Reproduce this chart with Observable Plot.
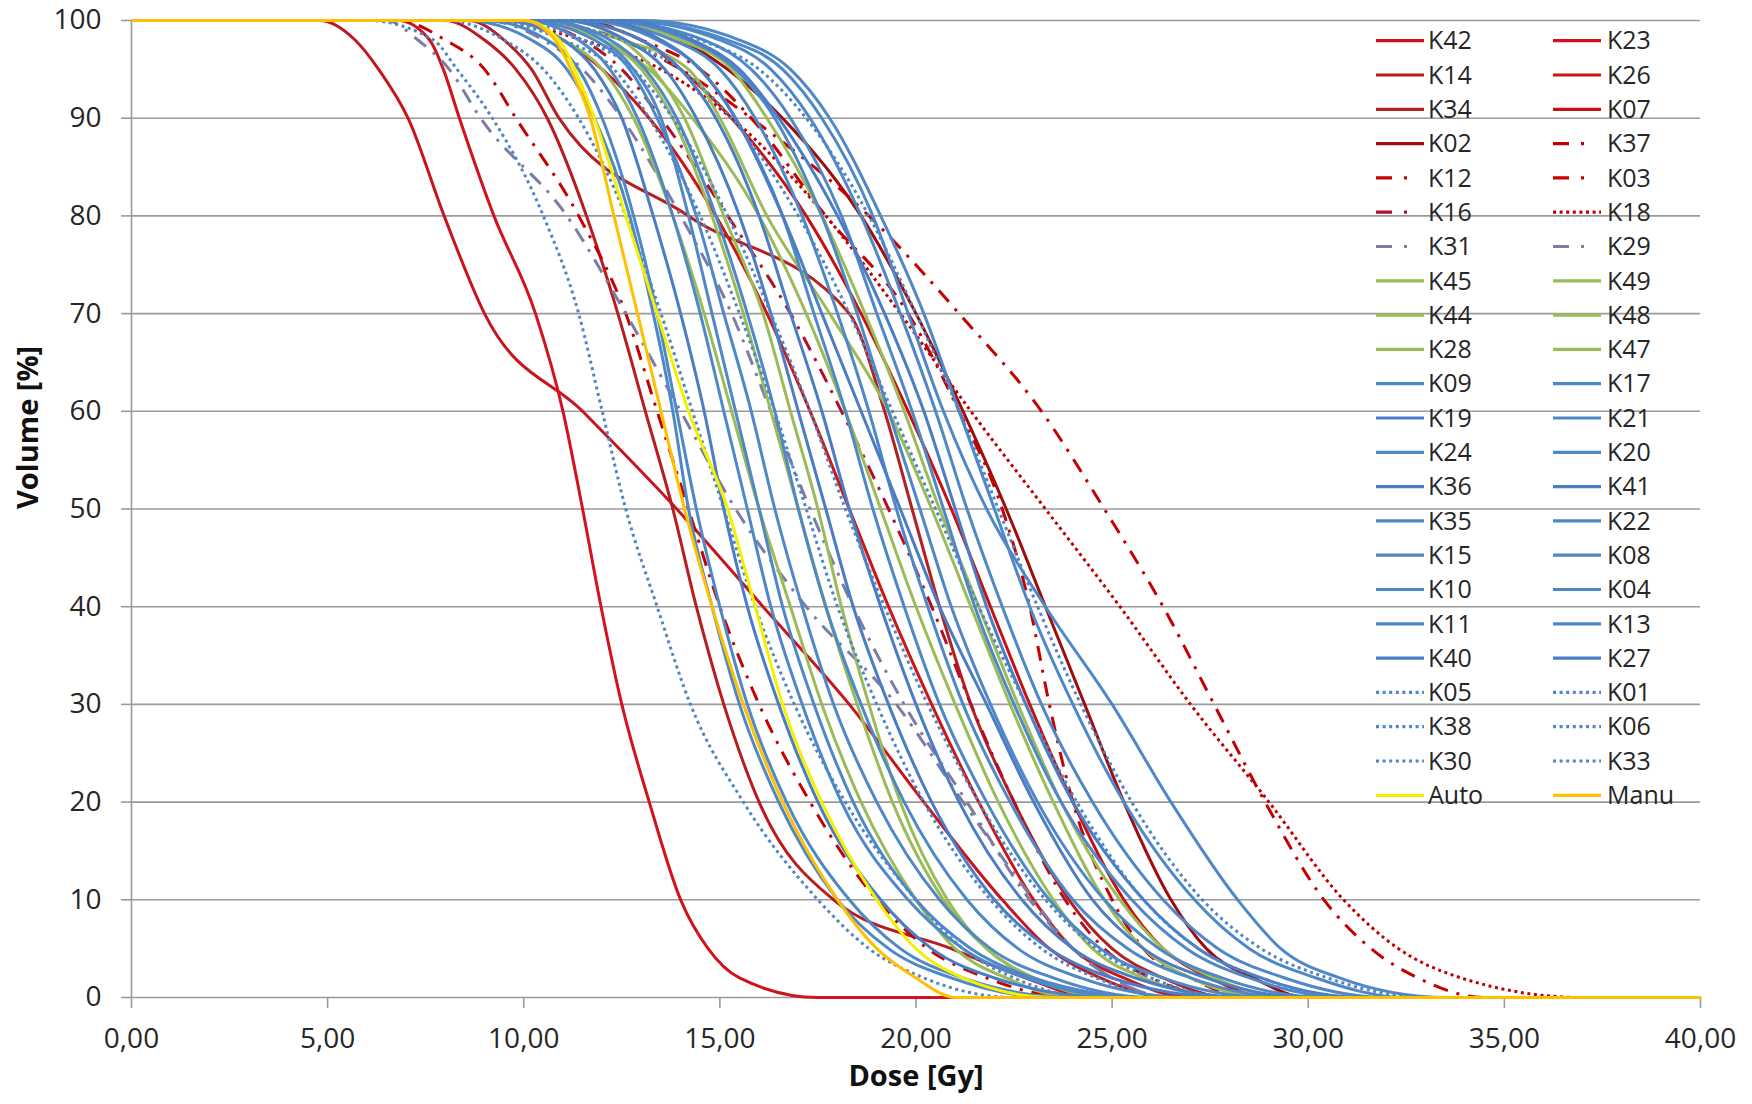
<!DOCTYPE html>
<html><head><meta charset="utf-8">
<script src="https://cdn.jsdelivr.net/npm/d3@7"></script>
<script src="https://cdn.jsdelivr.net/npm/@observablehq/plot@0.6"></script>
<style>
html,body{margin:0;padding:0;background:#fff;}
#chart svg{display:block;}
</style></head><body><div id="chart"></div>
<script>
// Volume levels (%) at which the dose (Gy) of every curve was read
const levels = [100, 98, 95, 90, 80, 70, 60, 50, 40, 30, 20, 10, 5, 2, 0];

// Dose [Gy] reached by each DVH at the levels above
const K42 = [4.8, 5.7, 6.3, 7.05, 7.97, 9.0, 11.5, 13.9, 16.1, 18.3, 20.2, 22.2, 23.4, 24.7, 26.5];
const K23 = [6.8, 7.6, 7.95, 8.36, 9.24, 10.3, 11.0, 11.5, 11.97, 12.5, 13.2, 14.0, 14.7, 15.5, 17.5];
const K14 = [8.0, 9.0, 9.8, 10.6, 11.6, 12.4, 13.1, 13.8, 14.4, 15.1, 16.0, 17.9, 20.9, 22.8, 24.5];
const K26 = [9.5, 11.0, 12.0, 13.2, 14.9, 16.2, 17.3, 18.3, 19.3, 20.4, 21.6, 23.0, 24.0, 25.3, 27.0];
const K34 = [8.6, 9.5, 10.2, 10.9, 14.2, 18.3, 19.2, 19.9, 20.6, 21.4, 22.5, 23.9, 25.0, 26.3, 28.0];
const K07 = [11.0, 13.0, 14.0, 15.3, 17.2, 18.6, 19.8, 20.9, 21.9, 22.9, 24.0, 25.3, 26.3, 27.5, 29.0];
const K02 = [12.0, 14.0, 15.2, 16.6, 18.6, 20.0, 21.2, 22.3, 23.3, 24.3, 25.3, 26.5, 27.4, 28.6, 30.0];
const K37 = [10.0, 12.5, 14.0, 15.8, 18.8, 21.1, 23.2, 24.8, 26.3, 27.6, 28.9, 30.4, 31.6, 32.8, 34.5];
const K12 = [6.8, 8.0, 9.0, 9.8, 11.4, 12.6, 13.4, 14.2, 15.0, 16.0, 17.3, 19.0, 20.3, 21.8, 24.0];
const K03 = [11.5, 13.0, 14.5, 15.8, 17.7, 19.8, 21.1, 22.2, 22.9, 23.4, 24.0, 25.0, 25.8, 27.0, 28.5];
const K16 = [10.0, 11.5, 12.5, 13.5, 15.2, 16.8, 18.1, 19.3, 20.4, 21.4, 22.5, 23.8, 24.8, 26.0, 28.0];
const K18 = [9.0, 11.5, 13.5, 15.3, 17.7, 19.6, 21.4, 23.3, 25.2, 27.0, 29.0, 30.9, 32.3, 33.9, 37.0];
const K31 = [6.5, 7.3, 8.1, 8.9, 11.1, 12.6, 14.0, 15.4, 17.2, 19.5, 21.2, 23.0, 24.0, 25.0, 26.5];
const K29 = [9.0, 10.5, 11.5, 12.5, 14.0, 15.3, 16.3, 17.3, 18.4, 19.7, 21.3, 22.9, 24.0, 25.0, 26.5];
const K45 = [10.0, 12.5, 14.2, 15.0, 16.2, 17.8, 19.3, 20.4, 21.4, 22.4, 23.5, 24.8, 25.8, 27.0, 29.0];
const K49 = [10.5, 12.0, 13.0, 13.8, 14.8, 15.6, 16.3, 17.0, 17.7, 18.5, 19.4, 20.7, 21.8, 23.0, 25.0];
const K44 = [11.0, 12.5, 13.3, 14.1, 15.1, 16.1, 16.8, 17.5, 18.1, 18.8, 19.6, 20.8, 21.8, 23.0, 25.0];
const K48 = [9.5, 11.0, 12.0, 12.8, 13.8, 14.6, 15.3, 16.0, 16.8, 17.6, 18.6, 20.0, 21.0, 22.3, 24.0];
const K28 = [12.0, 14.0, 15.3, 16.2, 17.6, 18.7, 19.7, 20.6, 21.6, 22.6, 23.7, 25.2, 26.3, 27.6, 29.5];
const K47 = [10.0, 12.0, 13.2, 14.3, 16.0, 17.2, 18.2, 19.1, 20.0, 21.0, 22.1, 23.5, 24.5, 25.8, 28.0];
const K09 = [12.5, 15.2, 16.6, 17.6, 18.9, 19.8, 20.7, 21.8, 23.3, 25.0, 26.5, 28.2, 29.3, 30.8, 33.5];
const K17 = [9.0, 10.6, 11.4, 12.0, 12.8, 13.4, 13.9, 14.4, 15.0, 15.7, 16.7, 18.3, 19.6, 21.2, 24.0];
const K19 = [9.5, 11.0, 11.8, 12.5, 13.3, 14.0, 14.6, 15.1, 15.7, 16.5, 17.5, 19.1, 20.4, 22.0, 25.0];
const K21 = [10.0, 11.4, 12.2, 12.9, 13.8, 14.5, 15.1, 15.7, 16.3, 17.1, 18.1, 19.8, 21.2, 22.8, 25.5];
const K24 = [10.0, 11.8, 12.7, 13.4, 14.4, 15.1, 15.8, 16.4, 17.1, 17.9, 19.0, 20.6, 21.9, 23.5, 26.0];
const K20 = [10.5, 12.2, 13.1, 13.9, 14.9, 15.7, 16.4, 17.0, 17.7, 18.6, 19.7, 21.3, 22.6, 24.2, 27.0];
const K36 = [11.0, 12.6, 13.6, 14.4, 15.5, 16.3, 17.0, 17.7, 18.4, 19.3, 20.4, 22.0, 23.4, 25.0, 28.0];
const K41 = [11.0, 13.0, 14.0, 14.9, 16.0, 16.8, 17.6, 18.3, 19.1, 20.0, 21.1, 22.7, 24.0, 25.6, 28.5];
const K35 = [11.5, 13.4, 14.5, 15.4, 16.6, 17.4, 18.2, 18.9, 19.7, 20.6, 21.8, 23.4, 24.7, 26.3, 29.0];
const K22 = [11.5, 13.8, 15.0, 15.9, 17.1, 18.0, 18.8, 19.5, 20.3, 21.2, 22.4, 24.0, 25.4, 27.0, 29.5];
const K15 = [12.0, 14.2, 15.4, 16.4, 17.6, 18.5, 19.3, 20.1, 20.9, 21.9, 23.1, 24.8, 26.2, 27.8, 30.5];
const K08 = [12.0, 14.6, 15.8, 16.8, 18.1, 19.0, 19.9, 20.7, 21.5, 22.5, 23.7, 25.5, 26.9, 28.5, 31.0];
const K10 = [12.5, 15.0, 16.3, 17.3, 18.6, 19.6, 20.5, 21.3, 22.2, 23.2, 24.5, 26.3, 27.7, 29.4, 32.0];
const K04 = [13.0, 15.5, 16.8, 17.8, 19.1, 20.2, 21.1, 22.0, 22.9, 24.0, 25.3, 27.1, 28.5, 30.2, 32.5];
const K11 = [8.5, 10.2, 11.1, 11.8, 12.7, 13.3, 13.8, 14.2, 14.8, 15.5, 16.5, 18.0, 19.3, 20.9, 23.5];
const K13 = [10.5, 12.0, 12.8, 13.5, 14.2, 14.8, 15.4, 16.0, 16.6, 17.4, 18.4, 20.0, 21.4, 23.0, 26.0];
const K40 = [12.0, 13.5, 14.5, 15.4, 16.6, 17.6, 18.6, 19.6, 20.6, 21.8, 23.0, 24.5, 25.8, 27.4, 30.0];
const K27 = [12.5, 14.3, 15.5, 16.5, 18.0, 19.2, 20.2, 21.0, 21.8, 22.8, 24.0, 25.8, 27.2, 28.8, 31.5];
const K05 = [6.0, 7.7, 8.3, 9.2, 10.5, 11.4, 12.0, 12.6, 13.4, 14.25, 15.6, 17.5, 18.8, 20.2, 22.5];
const K01 = [8.0, 9.5, 10.5, 11.4, 12.6, 13.5, 14.3, 15.1, 15.9, 16.9, 18.2, 20.0, 21.2, 22.5, 24.5];
const K38 = [9.5, 11.5, 12.8, 13.8, 15.2, 16.3, 17.3, 18.2, 19.2, 20.3, 21.6, 23.3, 24.6, 26.0, 28.0];
const K06 = [10.0, 12.5, 14.0, 15.3, 17.0, 18.3, 19.4, 20.5, 21.6, 22.8, 24.1, 25.8, 27.2, 28.8, 31.0];
const K30 = [12.0, 14.5, 16.0, 17.2, 18.8, 20.0, 21.1, 22.1, 23.1, 24.2, 25.5, 27.3, 28.8, 30.5, 33.0];
const K33 = [9.0, 11.0, 12.3, 13.2, 14.5, 15.5, 16.4, 17.2, 18.0, 19.0, 20.2, 21.9, 23.2, 24.6, 26.5];
const Auto = [10.0, 10.9, 11.3, 11.8, 12.6, 13.4, 14.2, 15.2, 15.9, 16.6, 17.6, 19.0, 20.0, 21.2, 23.5];
const Manu = [10.0, 10.8, 11.2, 11.7, 12.3, 12.9, 13.5, 14.1, 14.8, 15.6, 16.6, 18.0, 19.0, 20.0, 21.0];

// Series in legend (and drawing) order
const seriesNames = ["K42","K23","K14","K26","K34","K07","K02","K37","K12","K03","K16","K18",
  "K31","K29","K45","K49","K44","K48","K28","K47","K09","K17","K19","K21","K24","K20","K36","K41",
  "K35","K22","K15","K08","K10","K04","K11","K13","K40","K27","K05","K01","K38","K06","K30","K33",
  "Auto","Manu"];
const seriesDoses = [K42,K23,K14,K26,K34,K07,K02,K37,K12,K03,K16,K18,
  K31,K29,K45,K49,K44,K48,K28,K47,K09,K17,K19,K21,K24,K20,K36,K41,
  K35,K22,K15,K08,K10,K04,K11,K13,K40,K27,K05,K01,K38,K06,K30,K33,
  Auto,Manu];

const doseTicks = [0, 5, 10, 15, 20, 25, 30, 35, 40];
const volumeTicks = [0, 10, 20, 30, 40, 50, 60, 70, 80, 90, 100];
const doseDomain = [0, 40];

// ---- styles ----
const DASHDOT = "15,9,3,9";
const DOT = "3,3.6";
function styleOf(name) {
  const reds = {K42:"#c8141c",K23:"#d2121c",K14:"#b81c1e",K26:"#cc1616",K34:"#b52020",K07:"#c81010",K02:"#9e0c0c"};
  if (reds[name]) return {stroke: reds[name], dash: null};
  if (["K37","K12","K03","K16"].includes(name)) return {stroke: name === "K16" ? "#b0102c" : "#c40000", dash: DASHDOT};
  if (name === "K18") return {stroke: "#c00000", dash: DOT};
  if (["K31","K29"].includes(name)) return {stroke: "#7c7ca6", dash: DASHDOT};
  if (["K45","K49","K44","K48","K28","K47"].includes(name)) return {stroke: "#9bbb59", dash: null};
  if (["K05","K01","K38","K06","K30","K33"].includes(name)) return {stroke: "#4f86c6", dash: DOT};
  if (name === "Auto") return {stroke: "#f5f000", dash: null};
  if (name === "Manu") return {stroke: "#ffc000", dash: null};
  if (["K40","K27","K19","K41","K36"].includes(name)) return {stroke: "#4a7dc4", dash: null};
  return {stroke: "#4f88c6", dash: null};
}

function rowsOf(i) {
  const d = seriesDoses[i];
  const rows = [{dose: doseDomain[0], vol: levels[0]}];
  levels.forEach((v, j) => rows.push({dose: d[j], vol: v}));
  rows.push({dose: doseDomain[1], vol: levels[levels.length - 1]});
  return rows;
}

const FONT = "'Open Sans', 'DejaVu Sans', sans-serif";
const GRID = "#9a9a9a";
const fmtDose = d => d.toFixed(2).replace(".", ",");

const lineMarks = seriesNames.map((name, i) => {
  const s = styleOf(name);
  const opts = {x: "dose", y: "vol", stroke: s.stroke, strokeWidth: 3, curve: "monotone-x", strokeLinecap: "butt"};
  if (s.dash) opts.strokeDasharray = s.dash;
  return Plot.line(rowsOf(i), opts);
});

const chart = Plot.plot({
  width: 1752, height: 1104,
  marginLeft: 131, marginRight: 52, marginTop: 20, marginBottom: 107,
  x: {domain: doseDomain},
  y: {domain: [0, 100]},
  style: {fontFamily: FONT, background: "#fff", color: "#262626"},
  marks: [
    Plot.ruleY(volumeTicks, {stroke: GRID, strokeWidth: 1.6}),
    Plot.ruleX([0], {stroke: GRID, strokeWidth: 1.6}),
    Plot.axisY(volumeTicks, {tickSize: 10, tickPadding: 20, fontSize: 28, label: null, stroke: GRID, strokeWidth: 1.6, fill: "#262626"}),
    Plot.axisX(doseTicks, {tickSize: 11, tickPadding: 20, fontSize: 28, label: null, stroke: GRID, strokeWidth: 1.6, fill: "#262626", tickFormat: fmtDose}),
    ...lineMarks,
    Plot.text(["Dose [Gy]"], {frameAnchor: "bottom", dy: 88, fontSize: 29, fontWeight: "bold", fill: "#111"}),
    Plot.text(["Volume [%]"], {frameAnchor: "left", dx: -103, rotate: -90, fontSize: 29, fontWeight: "bold", fill: "#111"})
  ]
});

document.getElementById("chart").appendChild(chart);

// ---- legend (inside plot area, two columns) ----
const svg = d3.select(chart);
const lg = svg.append("g").attr("font-family", FONT).attr("font-size", 25)
  .attr("fill", "#262626").attr("text-anchor", "start");
const colLine = [1376, 1553], colText = [1428, 1607];
const LEGEND_DASHDOT = "16,12,3,40";
seriesNames.forEach((name, i) => {
  const row = Math.floor(i / 2), col = i % 2;
  const y = 40.7 + row * 34.3;
  const s = styleOf(name);
  const ln = lg.append("line").attr("x1", colLine[col]).attr("x2", colLine[col] + 48)
    .attr("y1", y).attr("y2", y).attr("stroke", s.stroke).attr("stroke-width", 3.2);
  if (s.dash) ln.attr("stroke-dasharray", s.dash === DASHDOT ? LEGEND_DASHDOT : s.dash);
  lg.append("text").attr("x", colText[col]).attr("y", y).attr("dy", "0.35em")
    .attr("text-anchor", "start").text(name);
});
</script>
</body></html>
